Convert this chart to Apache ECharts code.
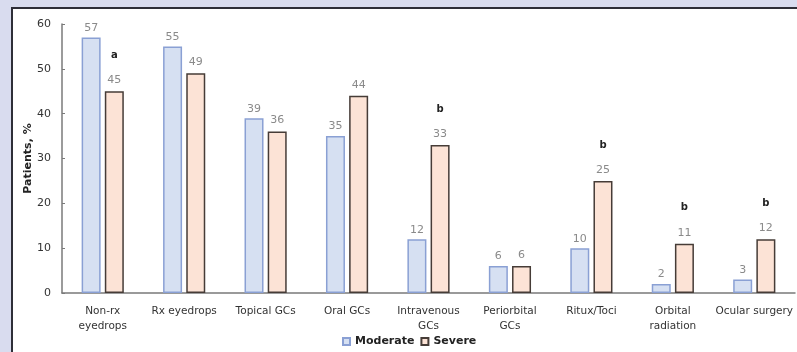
<!DOCTYPE html>
<html>
<head>
<meta charset="utf-8">
<script src="https://cdn.jsdelivr.net/npm/echarts@6/dist/echarts.min.js"></script>
<style>
  html, body { margin: 0; padding: 0; background: #d9dcef; }
  #chart { width: 797px; height: 352px; }
</style>
</head>
<body>
<div id="chart"></div>
<script>
// Treatment categories (x axis)
const categories = [
  'Non-rx\neyedrops', 'Rx eyedrops', 'Topical GCs', 'Oral GCs',
  'Intravenous\nGCs', 'Periorbital\nGCs', 'Ritux/Toci',
  'Orbital\nradiation', 'Ocular surgery'
];
// Share of patients (%) per severity group
const moderate = [57, 55, 39, 35, 12, 6, 10, 2, 3];
const severe   = [45, 49, 36, 44, 33, 6, 25, 11, 12];
// Significance markers shown above the severe bars
const marks    = ['a', '', '', '', 'b', '', 'b', 'b', 'b'];
// Y axis ticks
const yMin = 0, yMax = 60, yStep = 10;

const FONT = 'DejaVu Sans';
const chart = echarts.init(document.getElementById('chart'));

chart.setOption({
  backgroundColor: '#d9dcef',
  animation: false,
  textStyle: { fontFamily: FONT },
  graphic: [{
    type: 'rect',
    z: -10,
    shape: { x: 12, y: 8, width: 800, height: 360 },
    style: { fill: '#ffffff', stroke: '#2e2e38', lineWidth: 2 }
  }],
  grid: { left: 62, right: 2, top: 24, bottom: 59 },
  legend: {
    data: ['Moderate', 'Severe'],
    left: 337,
    top: 331,
    itemWidth: 7,
    itemHeight: 7,
    itemGap: 6,
    icon: 'rect',
    textStyle: { fontFamily: FONT, fontSize: 11, fontWeight: 'bold', color: '#222' }
  },
  xAxis: {
    type: 'category',
    data: categories,
    axisLine: { lineStyle: { color: '#7a7a7a', width: 1.5 } },
    axisTick: { inside: true, length: 3, lineStyle: { color: '#7a7a7a' } },
    axisLabel: {
      interval: 0, margin: 11, fontSize: 10.5, lineHeight: 15,
      color: '#333', fontFamily: FONT
    }
  },
  yAxis: {
    type: 'value',
    min: yMin, max: yMax, interval: yStep,
    name: 'Patients, %',
    nameLocation: 'middle',
    nameRotate: 90,
    nameGap: 28,
    nameMoveOverlap: false,
    nameTextStyle: { fontFamily: FONT, fontSize: 11, fontWeight: 'bold', color: '#222' },
    splitLine: { show: false },
    axisLine: { show: true, lineStyle: { color: '#7a7a7a', width: 1.5 } },
    axisTick: { show: true, inside: true, length: 3, lineStyle: { color: '#7a7a7a' } },
    axisLabel: { margin: 11, fontSize: 11, color: '#333', fontFamily: FONT }
  },
  series: [
    {
      name: 'Moderate',
      type: 'bar',
      data: moderate,
      barWidth: 19,
      barGap: '22%',
      itemStyle: { color: '#d6e0f2', borderColor: '#8aa0d4', borderWidth: 1.5 },
      label: { show: true, position: 'top', distance: 4, fontSize: 11, color: '#8a8a8a', fontFamily: FONT }
    },
    {
      name: 'Severe',
      type: 'bar',
      data: severe,
      barWidth: 19,
      itemStyle: { color: '#fce3d6', borderColor: '#463c37', borderWidth: 1.5 },
      label: {
        show: true, position: 'top', distance: 4,
        fontFamily: FONT,
        formatter: p => marks[p.dataIndex]
          ? '{m|' + marks[p.dataIndex] + '}\n{v|' + p.value + '}'
          : '{v|' + p.value + '}',
        rich: {
          m: { fontSize: 10, fontWeight: 'bold', color: '#222', lineHeight: 36, fontFamily: FONT },
          v: { fontSize: 11, color: '#8a8a8a', lineHeight: 14, fontFamily: FONT }
        }
      }
    }
  ]
});
</script>
</body>
</html>
